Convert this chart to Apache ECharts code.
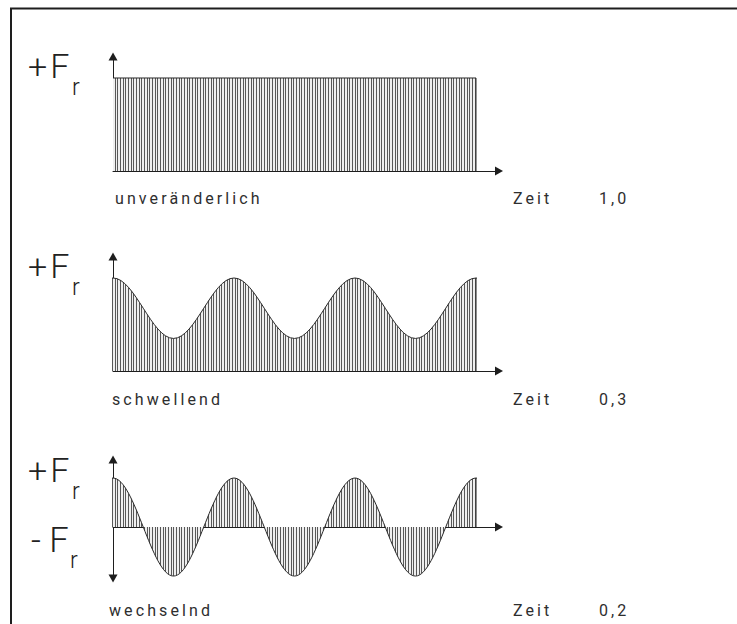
<!DOCTYPE html>
<html><head><meta charset="utf-8">
<script src="https://cdn.jsdelivr.net/npm/echarts@6/dist/echarts.min.js"></script>
<style>
html,body{margin:0;padding:0;background:#fff;overflow:hidden;}
#c{width:737px;height:624px;}
#c text{letter-spacing:3.1px;}
#c text[style*="34px"]{letter-spacing:3px;}
#c text[style*="34.5px"], #c text[style*="23px"]{letter-spacing:0;}
</style></head><body><div id="c"></div>
<script>
// ---- data ----
const endX = 3;                       // three periods shown
const constX = [0, 3];
const constY = [1, 1];
const swellX = [-0.5, 0, 0.5, 1, 1.5, 2, 2.5, 3, 3.5];
const swellY = [0.35, 1, 0.35, 1, 0.35, 1, 0.35, 1, 0.35];
const altX = [-0.5, 0, 0.5, 1, 1.5, 2, 2.5, 3, 3.5];
const altY = [-1, 1, -1, 1, -1, 1, -1, 1, -1];
const captions = ['unveränderlich', 'schwellend', 'wechselnd'];
const ratios = ['1,0', '0,3', '0,2'];
const timeLabel = 'Zeit';
const plusLabel = '+F';
const minusLabel = '- F';
const subLabel = 'r';

// ---- layout ----
const panels = [
  {xs: constX, ys: constY, smooth: 0,    top: 56.6,  height: 114.4, ymin: 0,     ymax: 1.23, both: false, capY: 198.5, plusY: 65.5, subY: 87.5},
  {xs: swellX, ys: swellY, smooth: 0.36, top: 256.6, height: 114.4, ymin: 0,     ymax: 1.23, both: false, capY: 399.5, plusY: 265.5, subY: 287.5},
  {xs: altX,   ys: altY,   smooth: 0.36, top: 459.4, height: 119.1, ymin: -1.05, ymax: 1.38, both: true,  capY: 610.5, plusY: 469.5, subY: 491, minusY: 540, minusSubY: 560}
];
const captionX = [115, 112, 109];

function hatch() {
  const c = document.createElement('canvas');
  c.width = 8; c.height = 4;
  const g = c.getContext('2d');
  g.fillStyle = '#efefef'; g.fillRect(0, 0, 8, 4);
  g.fillStyle = '#585858';
  [0, 3, 5].forEach(function (x) { g.fillRect(x, 0, 1, 4); });
  return {image: c.toDataURL(), repeat: 'repeat', imageWidth: 8, imageHeight: 4};
}
const pattern = hatch();
const ink = '#1e1e1e';

const grid = [], xAxis = [], yAxis = [], series = [], graphic = [];
graphic.push({type: 'polyline', silent: true, shape: {points: [[11, 640], [11, 8.5], [737, 8.5]]},
  style: {fill: 'none', stroke: ink, lineWidth: 2}});

panels.forEach(function (p, i) {
  const gd = 2 * i, ga = 2 * i + 1;
  grid.push({left: 113, top: p.top, width: 363, height: p.height, outerBoundsMode: 'none'});
  grid.push({left: 113, top: p.top, width: 386, height: p.height, outerBoundsMode: 'none'});
  xAxis.push({gridIndex: gd, type: 'value', min: 0, max: endX, show: false});
  xAxis.push({gridIndex: ga, type: 'value', min: 0, max: 1,
    axisLine: {show: true, onZero: true, symbol: ['none', 'triangle'], symbolSize: [9, 8], lineStyle: {color: ink, width: 1}},
    axisTick: {show: false}, axisLabel: {show: false}, splitLine: {show: false}});
  yAxis.push({gridIndex: gd, type: 'value', min: p.ymin, max: p.ymax, show: false});
  yAxis.push({gridIndex: ga, type: 'value', min: p.ymin, max: p.ymax,
    axisLine: {show: true, onZero: true, symbol: p.both ? ['triangle', 'triangle'] : ['none', 'triangle'], symbolSize: [9, 8], lineStyle: {color: ink, width: 1}},
    axisTick: {show: false}, axisLabel: {show: false}, splitLine: {show: false}});
  const data = p.xs.map(function (x, k) { return [x, p.ys[k]]; });
  series.push({type: 'line', xAxisIndex: gd, yAxisIndex: gd, data: data, smooth: p.smooth, symbol: 'none', silent: true,
    clip: true, lineStyle: {color: '#2a2a2a', width: 1}, areaStyle: {color: pattern, opacity: 1}, z: 2});
  const yEnd = p.ys[p.xs.indexOf(endX)];
  series.push({type: 'line', xAxisIndex: gd, yAxisIndex: gd, data: [[endX, 0], [endX, yEnd]], symbol: 'none', silent: true,
    lineStyle: {color: '#2a2a2a', width: 1}, z: 3});

  function txt(t, x, y, size, color, weight) {
    graphic.push({type: 'text', x: x, y: y, silent: true,
      style: {text: t, font: (weight || 'normal') + ' ' + size + 'px Roboto', fill: color, align: 'left', verticalAlign: 'middle', textAlign: 'left', textVerticalAlign: 'middle'}});
  }
  txt(plusLabel, 28, p.plusY, 34, '#222', 300);
  txt(subLabel, 72, p.subY, 23, '#222', 300);
  if (p.both) {
    txt(minusLabel, 31, p.minusY, 34.5, '#222', 300);
    txt(subLabel, 70, p.minusSubY, 23, '#222', 300);
  }
  txt(captions[i], captionX[i], p.capY, 16, '#2e2e2e');
  txt(timeLabel, 513, p.capY, 16, '#2e2e2e');
  txt(ratios[i], 599, p.capY, 16, '#2e2e2e');
});

const chart = echarts.init(document.getElementById('c'), null, {renderer: 'svg'});
chart.setOption({animation: false, backgroundColor: '#fff', grid: grid, xAxis: xAxis, yAxis: yAxis, series: series, graphic: graphic});
</script></body></html>
